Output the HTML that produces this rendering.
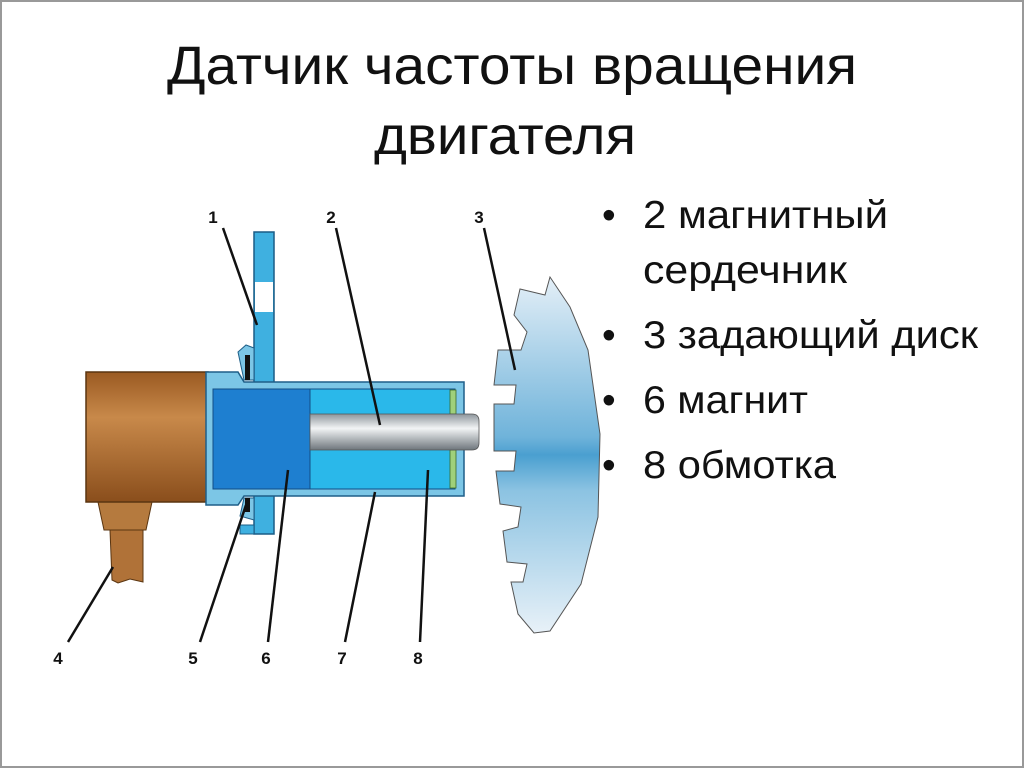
<!DOCTYPE html>
<html><head><meta charset="utf-8"><style>
html,body{margin:0;padding:0;background:#fff;}
svg{display:block;}
</style></head><body>
<svg width="1024" height="768" viewBox="0 0 1024 768" xmlns="http://www.w3.org/2000/svg">
<defs>
<linearGradient id="br" x1="0" y1="0" x2="0" y2="1">
<stop offset="0" stop-color="#9a5a22"/><stop offset="0.35" stop-color="#c8894a"/><stop offset="1" stop-color="#8a4e1c"/>
</linearGradient>
<linearGradient id="core" x1="0" y1="0" x2="0" y2="1">
<stop offset="0" stop-color="#8e969c"/><stop offset="0.4" stop-color="#f2f4f5"/><stop offset="1" stop-color="#6e767c"/>
</linearGradient>
<linearGradient id="disc" x1="0" y1="0" x2="0" y2="1">
<stop offset="0" stop-color="#e4eff7"/><stop offset="0.45" stop-color="#6fb3da"/><stop offset="0.5" stop-color="#4a9fd0"/><stop offset="0.6" stop-color="#8cc3e2"/><stop offset="1" stop-color="#e8f1f8"/>
</linearGradient>
</defs>
<rect x="1" y="1" width="1022" height="766" fill="#fff" stroke="#999" stroke-width="2"/>
<g font-family="'Liberation Sans','Noto Sans CJK SC',sans-serif" fill="#111">
<text x="512" y="84" font-size="54" text-anchor="middle" textLength="690" lengthAdjust="spacingAndGlyphs">Датчик частоты вращения</text>
<text x="505" y="154" font-size="54" text-anchor="middle" textLength="262" lengthAdjust="spacingAndGlyphs">двигателя</text>
<g font-size="39">
<text x="602" y="228">•</text><text x="643" y="228" textLength="245" lengthAdjust="spacingAndGlyphs">2 магнитный</text>
<text x="643" y="283" textLength="204" lengthAdjust="spacingAndGlyphs">сердечник</text>
<text x="602" y="348">•</text><text x="643" y="348" textLength="335" lengthAdjust="spacingAndGlyphs">3 задающий диск</text>
<text x="602" y="413">•</text><text x="643" y="413" textLength="165" lengthAdjust="spacingAndGlyphs">6 магнит</text>
<text x="602" y="478">•</text><text x="643" y="478" textLength="193" lengthAdjust="spacingAndGlyphs">8 обмотка</text>
</g>
</g>
<polygon points="550,277 545,295 520,289 514,315 527,332 521,350 498,350 494,385 516,385 514,404 494,404 494,451 516,451 514,471 496,471 500,504 521,507 518,527 503,531 507,562 527,564 523,582 511,582 518,614 534,633 550,631 581,584 598,517 600,434 588,350 570,307" fill="url(#disc)" stroke="#555" stroke-width="1"/>
<path d="M98,502 L152,502 L146,530 L104,530 Z" fill="#b57a3e" stroke="#5a3510" stroke-width="1"/>
<path d="M110,530 L143,530 L143,582 L130,579 L118,583 L112,580 Z" fill="#b07238" stroke="#5a3510" stroke-width="1"/>
<rect x="86" y="372" width="122" height="130" fill="url(#br)" stroke="#5a3510" stroke-width="1.5"/>
<rect x="254" y="232" width="20" height="302" fill="#3fb0e0" stroke="#1a5c86" stroke-width="1.5"/>
<rect x="255" y="282" width="18" height="30" fill="#fff"/>
<path d="M240,525 L254,525 L254,534 L240,534 Z" fill="#3fb0e0" stroke="#1a5c86"/>
<path d="M206,372 L238,372 L244,382 L464,382 L464,496 L244,496 L238,505 L206,505 Z" fill="#7cc6e6" stroke="#1f5f88" stroke-width="1.5"/>
<path d="M238,352 L246,345 L254,348 L254,380 L244,380 Z" fill="#7cc6e6" stroke="#1f5f88"/>
<rect x="245" y="355" width="5" height="25" fill="#111"/>
<path d="M244,498 L254,498 L254,520 L240,516 Z" fill="#7cc6e6" stroke="#1f5f88"/>
<rect x="245" y="498" width="5" height="14" fill="#111"/>
<rect x="213" y="389" width="97" height="100" fill="#1e7fd0" stroke="#124e86"/>
<rect x="310" y="389" width="145" height="100" fill="#2ab8ea" stroke="#124e86"/>
<rect x="450" y="390" width="6" height="24" fill="#9fd07a" stroke="#3a6a2a" stroke-width="0.8"/>
<rect x="450" y="450" width="6" height="38" fill="#9fd07a" stroke="#3a6a2a" stroke-width="0.8"/>
<path d="M310,414 L472,414 Q479,414 479,421 L479,443 Q479,450 472,450 L310,450 Z" fill="url(#core)" stroke="#555" stroke-width="0.8"/>
<g stroke="#111" stroke-width="2.5" fill="none">
<line x1="223" y1="228" x2="257" y2="325"/>
<line x1="336" y1="228" x2="380" y2="425"/>
<line x1="484" y1="228" x2="515" y2="370"/>
<line x1="68" y1="642" x2="113" y2="567"/>
<line x1="200" y1="642" x2="246" y2="505"/>
<line x1="268" y1="642" x2="288" y2="470"/>
<line x1="345" y1="642" x2="375" y2="492"/>
<line x1="420" y1="642" x2="428" y2="470"/>
</g>
<g font-family="'Liberation Sans',sans-serif" font-weight="bold" font-size="17" fill="#111" text-anchor="middle">
<text x="213" y="223">1</text><text x="331" y="223">2</text><text x="479" y="223">3</text>
<text x="58" y="664">4</text><text x="193" y="664">5</text><text x="266" y="664">6</text>
<text x="342" y="664">7</text><text x="418" y="664">8</text>
</g>
</svg>
</body></html>
